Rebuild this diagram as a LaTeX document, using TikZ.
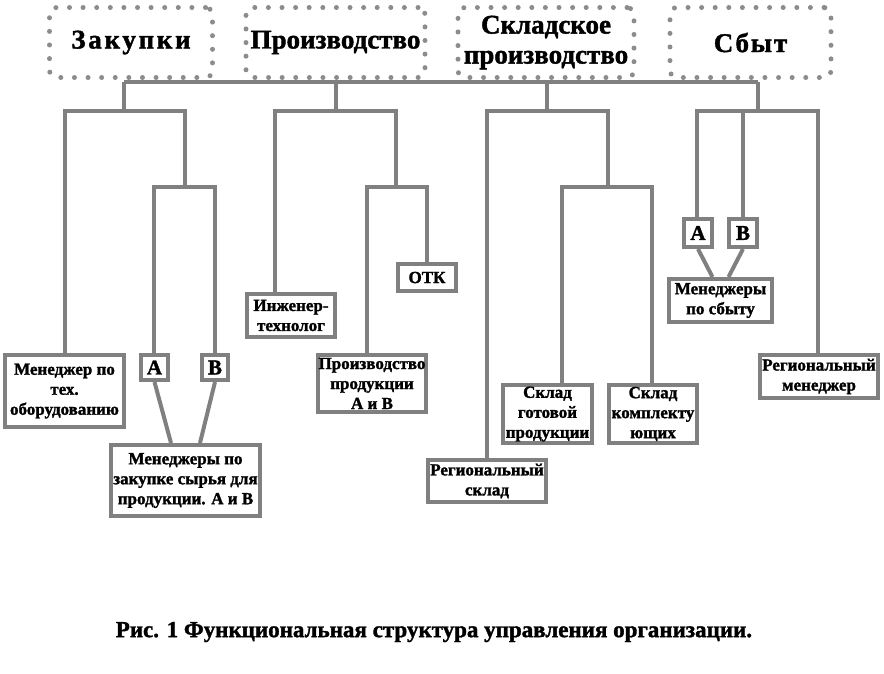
\documentclass[tikz,border=0pt]{standalone}
\usepackage{fontspec}
\setmainfont{Liberation Serif}[BoldFont={Liberation Serif Bold}, BoldFeatures={FakeBold=1.5}]
\definecolor{linegray}{HTML}{808080}
\definecolor{dotgray}{HTML}{8C8C8C}
\begin{document}
\begin{tikzpicture}[x=1pt,y=-1pt,
  link/.style={draw=linegray, line width=4pt},
  unit/.style={draw=linegray, line width=4pt, fill=white, inner sep=0pt, align=center,
    font=\bfseries\fontsize{17}{20}\selectfont},
  letter/.style={unit, font=\bfseries\fontsize{21}{24}\selectfont},
  dept/.style={draw=dotgray, line width=5pt, line cap=round, dash pattern=on 0pt off 13.6pt,
    rounded corners=7pt, inner sep=0pt, align=center, minimum height=70pt,
    font=\bfseries\fontsize{27}{30}\selectfont}]
\useasboundingbox (0,0) rectangle (884,673);

% departments
\node[dept, minimum width=163pt] (zak) at (131,42.5) {\addfontfeature{LetterSpace=10}Закупки};
\node[dept, minimum width=179pt] (proizv) at (335.5,42.5) {Производство};
\node[dept, minimum width=176pt] (sklad) at (546,42.5) {\raisebox{-2pt}{\parbox{176pt}{\centering Складское\\производство}}};
\node[dept, minimum width=161pt] (sbyt) at (750.5,42.5) {\addfontfeature{LetterSpace=7}Сбыт};

% units
\node[unit, minimum width=119pt, minimum height=72pt] (tech) at (64.5,391) {Менеджер по\\тех.\\оборудованию};
\node[letter, minimum width=27pt, minimum height=25pt] (zA) at (154.5,367.5) {А};
\node[letter, minimum width=26pt, minimum height=25pt] (zB) at (215,367.5) {В};
\node[unit, minimum width=149pt, minimum height=71pt] (zMgr) at (185.5,480.5) {Менеджеры по\\закупке сырья для\\продукции. А и В};
\node[unit, minimum width=88pt, minimum height=43pt] (eng) at (291,315.5) {Инженер-\\технолог};
\node[unit, minimum width=108pt, minimum height=57pt] (prodAB) at (372,383.5) {Производство\\продукции\\А и В};
\node[unit, minimum width=58pt, minimum height=27pt] (otk) at (427,277.5) {ОТК};
\node[unit, minimum width=118pt, minimum height=42pt] (regSklad) at (487,481) {Региональный\\склад};
\node[unit, minimum width=89pt, minimum height=58pt] (gotov) at (547.5,414) {Склад\\готовой\\продукции};
\node[unit, minimum width=88pt, minimum height=58pt] (kompl) at (653,414) {Склад\\комплекту\\ющих};
\node[letter, minimum width=28pt, minimum height=28pt] (sA) at (698,233) {А};
\node[letter, minimum width=28pt, minimum height=28pt] (sB) at (743,233) {В};
\node[unit, minimum width=103pt, minimum height=43pt] (sMgr) at (720.5,300.5) {Менеджеры\\по сбыту};
\node[unit, minimum width=118pt, minimum height=43pt] (regMgr) at (819,376.5) {Региональный\\менеджер};

% main bus
\coordinate (busZ) at (124,82);
\coordinate (busP) at (336,82);
\coordinate (busS) at (547,82);
\coordinate (busC) at (758,82);
\draw[link] (busZ) -- (busC);

% Закупки
\coordinate (zakL) at (65,111);
\coordinate (zakR) at (185,111);
\coordinate (zakA) at (154,187);
\coordinate (zakB) at (215,187);
\draw[link] (busZ) -- (busZ |- zakL);
\draw[link] (zakL |- tech.north) -- (zakL) -- (zakR) -- (zakR |- zakA);
\draw[link] (zakA |- zA.north) -- (zakA) -- (zakB) -- (zakB |- zB.north);
\draw[link] (zA.south) -- ([xshift=-14.5pt]zMgr.north);
\draw[link] (zB.south) -- ([xshift=14.5pt]zMgr.north);

% Производство
\coordinate (proL) at (275,111);
\coordinate (proR) at (396,111);
\coordinate (proA) at (367,187);
\coordinate (proB) at (427,187);
\draw[link] (busP) -- (busP |- proL);
\draw[link] (proL |- eng.north) -- (proL) -- (proR) -- (proR |- proA);
\draw[link] (proA |- prodAB.north) -- (proA) -- (proB) -- (proB |- otk.north);

% Складское производство
\coordinate (sklL) at (487,111);
\coordinate (sklR) at (608,111);
\coordinate (sklA) at (562,187);
\coordinate (sklB) at (652,187);
\draw[link] (busS) -- (busS |- sklL);
\draw[link] (sklL |- regSklad.north) -- (sklL) -- (sklR) -- (sklR |- sklA);
\draw[link] (sklA |- gotov.north) -- (sklA) -- (sklB) -- (sklB |- kompl.north);

% Сбыт
\coordinate (sbL) at (697,111);
\coordinate (sbM) at (743,111);
\coordinate (sbR) at (818,111);
\draw[link] (busC) -- (busC |- sbL);
\draw[link] (sbL |- sA.north) -- (sbL) -- (sbR) -- (sbR |- regMgr.north);
\draw[link] (sbM) -- (sbM |- sB.north);
\draw[link] (sA.south) -- ([xshift=-8pt]sMgr.north);
\draw[link] (sB.south) -- ([xshift=8pt]sMgr.north);

\node[font=\bfseries\fontsize{23}{26}\selectfont] (caption) at (434,632)
  {Рис. 1 Функциональная структура управления организации.};
\end{tikzpicture}
\end{document}
